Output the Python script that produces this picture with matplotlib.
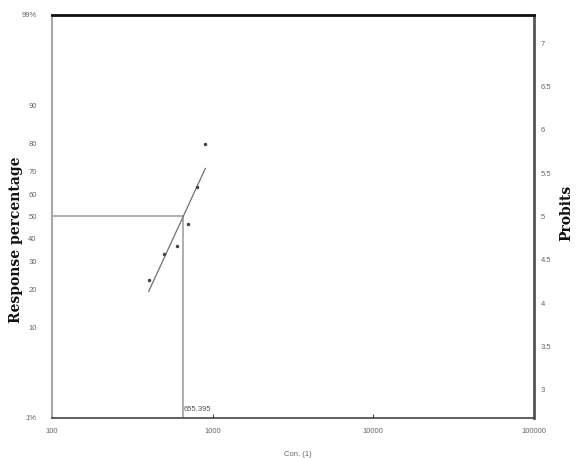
import matplotlib
matplotlib.use("Agg")
import matplotlib.pyplot as plt
import math
from statistics import NormalDist

# ---- data ----
conc = [400, 500, 600, 700, 800, 900]
response_pct = [23.3, 33.3, 36.7, 46.7, 63.3, 80.0]
lc50 = 655.395
slope = 4.03           # probits per log10 unit (fitted line)
line_range = [400, 900]
pct_ticks = [1, 10, 20, 30, 40, 50, 60, 70, 80, 90, 99]
pct_labels = ["1%", "10", "20", "30", "40", "50", "60", "70", "80", "90", "99%"]
probit_ticks = [3, 3.5, 4, 4.5, 5, 5.5, 6, 6.5, 7]
x_ticks = [100, 1000, 10000, 100000]
x_labels = ["100", "1000", "10000", "100000"]

nd = NormalDist()
def probit(p):
    return 5 + nd.inv_cdf(p / 100.0)

def fit(x):
    return 5 + slope * (math.log10(x) - math.log10(lc50))

fig = plt.figure(figsize=(5.76, 4.59), dpi=100)
ax = fig.add_axes([52/576, 1-418/459, (534-52)/576, (418-15)/459])
ax.set_xscale("log")
ax.set_xlim(100, 100000)
ylo, yhi = probit(1), probit(99)
ax.set_ylim(ylo, yhi)

lblkw = dict(fontsize=5.5, color="#666666", family="Liberation Sans")

# reference lines
ax.plot([100, lc50], [5, 5], color="#a8a8a8", lw=1.3, zorder=2)
ax.plot([lc50, lc50], [5, ylo], color="#a8a8a8", lw=1.3, zorder=2)
# fitted line
ax.plot(line_range, [fit(v) for v in line_range], color="#707070", lw=0.9, zorder=3)
# points
ax.plot(conc, [probit(v) for v in response_pct], "o", color="#444444", ms=1.5, zorder=4)

ax.text(lc50, ylo + 0.06, "655.395", ha="left", va="bottom", fontsize=5.5,
        color="#555555", family="Liberation Sans")

# x axis
ax.set_xticks(x_ticks)
ax.set_xticklabels(x_labels, **lblkw)
ax.xaxis.set_minor_locator(matplotlib.ticker.NullLocator())
ax.tick_params(axis="x", direction="in", length=3, width=0.8, color="#444444", pad=7)

# left axis
ax.set_yticks([probit(p) for p in pct_ticks])
ax.set_yticklabels(pct_labels, **lblkw)
ax.tick_params(axis="y", length=0, pad=11)

for s, c, w in [("top", "#111111", 2.0), ("right", "#555555", 2.0),
                ("left", "#a8a8a8", 1.5), ("bottom", "#444444", 1.2)]:
    ax.spines[s].set_color(c)
    ax.spines[s].set_linewidth(w)

ax2 = ax.twinx()
ax2.set_ylim(ylo, yhi)
ax2.set_yticks(probit_ticks)
ax2.set_yticklabels([("%g" % v) for v in probit_ticks], **lblkw)
ax2.tick_params(axis="y", length=0, pad=5)
for s in ax2.spines.values():
    s.set_visible(False)

fig.text(16/576, 1-240/459, "Response percentage", rotation=90, ha="center", va="center",
         fontsize=10, fontweight="bold", family="DejaVu Serif", color="#111111")
fig.text(566/576, 1-213/459, "Probits", rotation=90, ha="center", va="center",
         fontsize=10, fontweight="bold", family="DejaVu Serif", color="#111111")
fig.text(298/576, 1-455/459, "Con. (1)", ha="center", va="center",
         fontsize=5.5, color="#666666", family="Liberation Sans")

fig.savefig("out.png", dpi=100)
